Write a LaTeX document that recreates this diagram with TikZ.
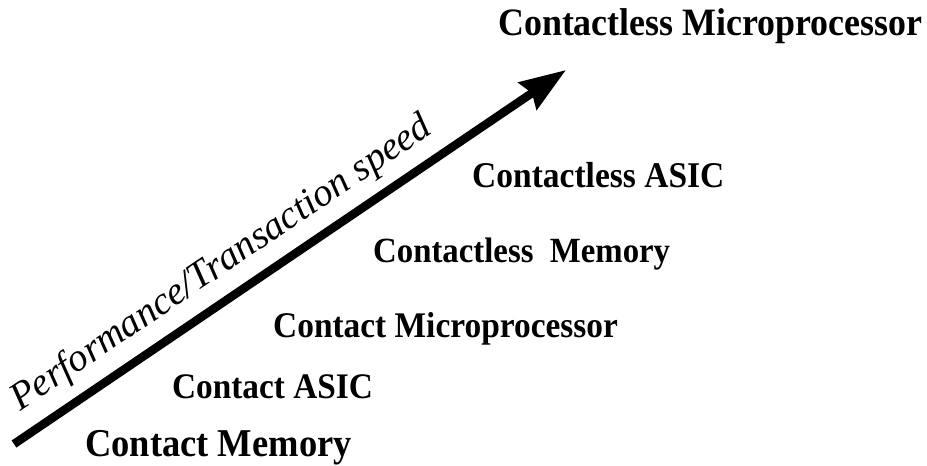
\documentclass[tikz,border=0pt]{standalone}
\usepackage{fontspec}
\setmainfont{Liberation Serif}
\usetikzlibrary{arrows.meta}
\tikzset{lb/.style={font=\bfseries\fontsize{#1}{#1}\selectfont, anchor=base west, inner sep=0pt, yscale=1.08, transform shape}, lb/.default=34}
\tikzset{sl/.append style={font=\itshape\fontsize{39}{42}\selectfont, anchor=base west, inner sep=0pt, rotate=34}}
\tikzset{ar/.append style={line width=8.5pt, -{Stealth[length=46pt,width=32pt,inset=5pt]}}}

\begin{document}
\begin{tikzpicture}[x=1pt,y=-1pt]
                \useasboundingbox (0,0) rectangle (927,466);
                % levels
                \node[lb=36.5] (cm) at (85,456) {Contact Memory};
                \node[lb=33.3] (ca) at (172,398) {Contact ASIC};
                \node[lb=33.4] (cp) at (273,337) {Contact Microprocessor};
                \node[lb=32.8] (lm) at (373,262) {Contactless\ \ Memory};
                \node[lb=33.5] (la) at (472,187) {Contactless ASIC};
                \node[lb=35.9] (lp) at (498,35) {Contactless Microprocessor};
                % axis
                \coordinate (s) at (14,444);
                \coordinate (t) at (566,70);
                \draw[ar] (s) -- (t);
                \node[sl] (perf) at (20,412) {Performance/Transaction speed};
            \end{tikzpicture}
\end{document}
